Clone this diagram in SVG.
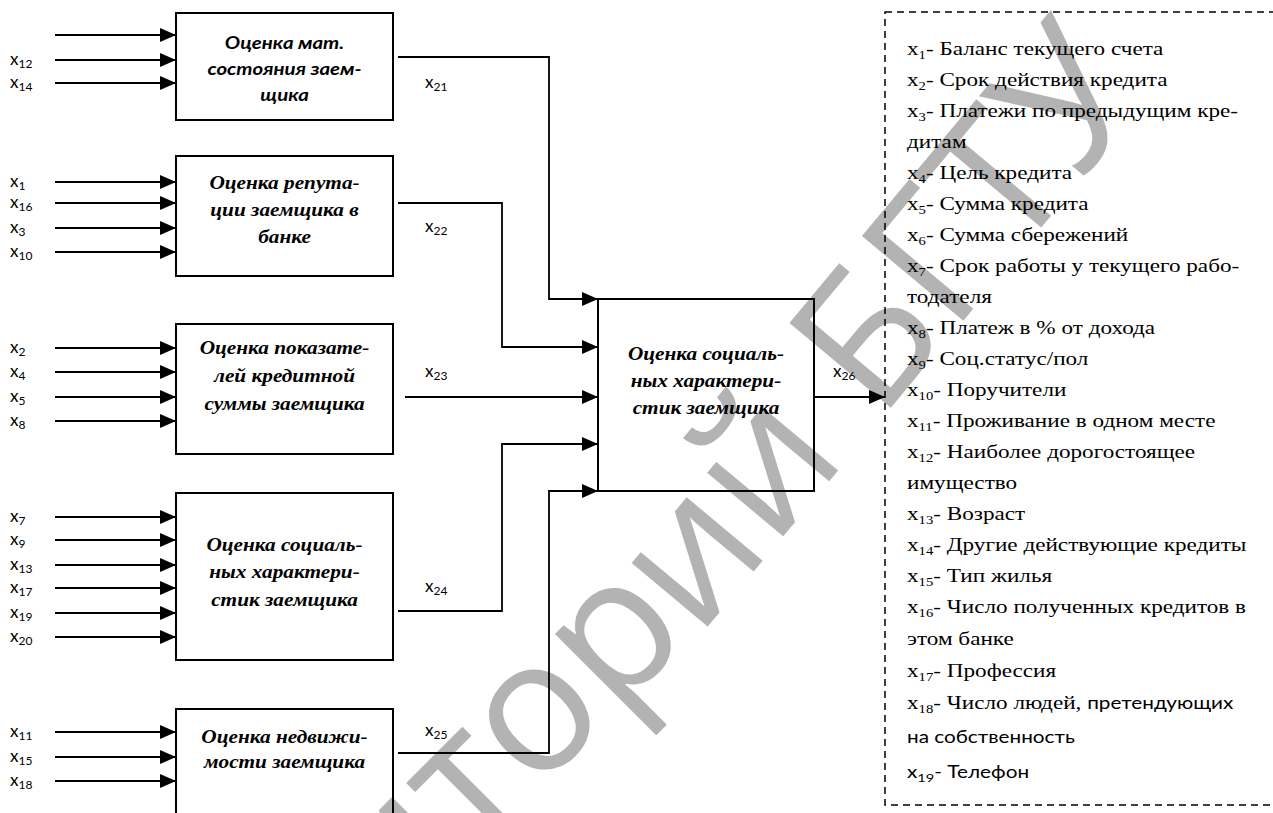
<svg xmlns="http://www.w3.org/2000/svg" width="1273" height="813" viewBox="0 0 1273 813">
<defs>
<style>
.wm{font-family:"Open Sans","DejaVu Sans",sans-serif;font-size:185px;fill:#b3b3b3}
.box{fill:none;stroke:#000;stroke-width:2}
.in{stroke:#000;stroke-width:2;fill:none}
.con{stroke:#000;stroke-width:1.8;fill:none}
.lbl{font-family:Lato,"Liberation Sans",sans-serif;font-size:17px;fill:#000}
.sub{font-size:12px}
.bt{font-family:"Liberation Serif","Times New Roman","DejaVu Serif",serif;font-weight:bold;font-style:italic;font-size:19px;text-anchor:middle;fill:#000}
.bc{font-family:Lato,"Liberation Sans",sans-serif;font-weight:bold;font-style:italic;font-size:17px;text-anchor:middle;fill:#000}
.lg{font-family:"Liberation Serif","Times New Roman","DejaVu Serif",serif;font-size:19px;fill:#000}
.lgs{font-size:12px}
.cal{font-family:Lato,"Liberation Sans",sans-serif;font-size:17px}
.dash{fill:none;stroke:#000;stroke-width:1.5;stroke-dasharray:7 5}
</style>
<marker id="ah" markerUnits="userSpaceOnUse" markerWidth="16" markerHeight="14" refX="16" refY="7" orient="auto"><path d="M0,0 L16,7 L0,14 z" fill="#000"/></marker>
<path id="wmp" d="M25,1300 L745,580 L1280,-60"/>
</defs>
<rect width="1273" height="813" fill="#fff"/>
<g transform="translate(-10,14)">
<text class="wm"><textPath href="#wmp" startOffset="0">Репозиторий БГТУ</textPath></text>
</g>

<g id="node1">
<rect class="box" x="176" y="13" width="217" height="107"/>
<g transform="translate(284.5,0) scale(1.2,1)">
<text class="bc" x="0" y="49">Оценка мат.</text>
<text class="bc" x="0" y="75">состояния заем-</text>
<text class="bc" x="0" y="101">щика</text>
</g>
</g>
<g id="node2">
<rect class="box" x="176" y="156" width="217" height="120"/>
<g transform="translate(284.5,0) scale(1.12,1)">
<text class="bt" x="0" y="189">Оценка репута-</text>
<text class="bt" x="0" y="216">ции заемщика в</text>
<text class="bt" x="0" y="243">банке</text>
</g>
</g>
<g id="node3">
<rect class="box" x="176" y="324" width="217" height="130"/>
<g transform="translate(284.5,0) scale(1.12,1)">
<text class="bt" x="0" y="354">Оценка показате-</text>
<text class="bt" x="0" y="382">лей кредитной</text>
<text class="bt" x="0" y="410">суммы заемщика</text>
</g>
</g>
<g id="node4">
<rect class="box" x="176" y="493" width="217" height="167"/>
<g transform="translate(284.5,0) scale(1.12,1)">
<text class="bt" x="0" y="551">Оценка социаль-</text>
<text class="bt" x="0" y="578">ных характери-</text>
<text class="bt" x="0" y="606">стик заемщика</text>
</g>
</g>
<g id="node5">
<rect class="box" x="176" y="709" width="217" height="130"/>
<g transform="translate(284.5,0) scale(1.12,1)">
<text class="bt" x="0" y="743">Оценка недвижи-</text>
<text class="bt" x="0" y="768">мости заемщика</text>
</g>
</g>
<g id="node6">
<rect class="box" x="598" y="299" width="216" height="192"/>
<g transform="translate(706,0) scale(1.12,1)">
<text class="bt" x="0" y="360">Оценка социаль-</text>
<text class="bt" x="0" y="387">ных характери-</text>
<text class="bt" x="0" y="414">стик заемщика</text>
</g>
</g>

<g id="inputs">
<line class="in" x1="55" y1="35" x2="176" y2="35" marker-end="url(#ah)"/>
<line class="in" x1="55" y1="60" x2="176" y2="60" marker-end="url(#ah)"/>
<line class="in" x1="55" y1="83" x2="176" y2="83" marker-end="url(#ah)"/>
<line class="in" x1="55" y1="182" x2="176" y2="182" marker-end="url(#ah)"/>
<line class="in" x1="55" y1="203" x2="176" y2="203" marker-end="url(#ah)"/>
<line class="in" x1="55" y1="228" x2="176" y2="228" marker-end="url(#ah)"/>
<line class="in" x1="55" y1="252" x2="176" y2="252" marker-end="url(#ah)"/>
<line class="in" x1="55" y1="348" x2="176" y2="348" marker-end="url(#ah)"/>
<line class="in" x1="55" y1="372" x2="176" y2="372" marker-end="url(#ah)"/>
<line class="in" x1="55" y1="397" x2="176" y2="397" marker-end="url(#ah)"/>
<line class="in" x1="55" y1="421" x2="176" y2="421" marker-end="url(#ah)"/>
<line class="in" x1="55" y1="517" x2="176" y2="517" marker-end="url(#ah)"/>
<line class="in" x1="55" y1="540" x2="176" y2="540" marker-end="url(#ah)"/>
<line class="in" x1="55" y1="565" x2="176" y2="565" marker-end="url(#ah)"/>
<line class="in" x1="55" y1="588" x2="176" y2="588" marker-end="url(#ah)"/>
<line class="in" x1="55" y1="613" x2="176" y2="613" marker-end="url(#ah)"/>
<line class="in" x1="55" y1="637" x2="176" y2="637" marker-end="url(#ah)"/>
<line class="in" x1="55" y1="732" x2="176" y2="732" marker-end="url(#ah)"/>
<line class="in" x1="55" y1="757" x2="176" y2="757" marker-end="url(#ah)"/>
<line class="in" x1="55" y1="781" x2="176" y2="781" marker-end="url(#ah)"/>
</g>
<g id="input-labels" class="lbl">
<text x="10" y="65">x<tspan class="sub" dy="3">12</tspan></text>
<text x="10" y="88">x<tspan class="sub" dy="3">14</tspan></text>
<text x="10" y="187">x<tspan class="sub" dy="3">1</tspan></text>
<text x="10" y="208">x<tspan class="sub" dy="3">16</tspan></text>
<text x="10" y="233">x<tspan class="sub" dy="3">3</tspan></text>
<text x="10" y="257">x<tspan class="sub" dy="3">10</tspan></text>
<text x="10" y="353">x<tspan class="sub" dy="3">2</tspan></text>
<text x="10" y="377">x<tspan class="sub" dy="3">4</tspan></text>
<text x="10" y="402">x<tspan class="sub" dy="3">5</tspan></text>
<text x="10" y="426">x<tspan class="sub" dy="3">8</tspan></text>
<text x="10" y="522">x<tspan class="sub" dy="3">7</tspan></text>
<text x="10" y="545">x<tspan class="sub" dy="3">9</tspan></text>
<text x="10" y="570">x<tspan class="sub" dy="3">13</tspan></text>
<text x="10" y="593">x<tspan class="sub" dy="3">17</tspan></text>
<text x="10" y="618">x<tspan class="sub" dy="3">19</tspan></text>
<text x="10" y="642">x<tspan class="sub" dy="3">20</tspan></text>
<text x="10" y="737">x<tspan class="sub" dy="3">11</tspan></text>
<text x="10" y="762">x<tspan class="sub" dy="3">15</tspan></text>
<text x="10" y="786">x<tspan class="sub" dy="3">18</tspan></text>
</g>

<g id="connectors">
<polyline class="con" points="398,57 549,57 549,299 598,299" marker-end="url(#ah)"/>
<polyline class="con" points="398,203 502,203 502,347 598,347" marker-end="url(#ah)"/>
<polyline class="con" points="405,397 598,397" marker-end="url(#ah)"/>
<polyline class="con" points="398,611 502,611 502,444 598,444" marker-end="url(#ah)"/>
<polyline class="con" points="398,753 549,753 549,491 598,491" marker-end="url(#ah)"/>
<polyline class="con" points="814,397 885,397" marker-end="url(#ah)"/>
</g>
<g id="connector-labels" class="lbl">
<text x="425" y="88">x<tspan class="sub" dy="3">21</tspan></text>
<text x="425" y="232">x<tspan class="sub" dy="3">22</tspan></text>
<text x="425" y="377">x<tspan class="sub" dy="3">23</tspan></text>
<text x="425" y="592">x<tspan class="sub" dy="3">24</tspan></text>
<text x="425" y="736">x<tspan class="sub" dy="3">25</tspan></text>
<text x="833" y="377">x<tspan class="sub" dy="3">26</tspan></text>
</g>

<g id="legend">
<rect class="dash" x="885" y="12" width="420" height="793"/>
<g class="lg" transform="translate(907,0) scale(1.22,1)">
<text y="55">x<tspan class="lgs" dy="4">1</tspan><tspan dy="-4">- Баланс текущего счета</tspan></text>
<text y="86">x<tspan class="lgs" dy="4">2</tspan><tspan dy="-4">- Срок действия кредита</tspan></text>
<text y="117">x<tspan class="lgs" dy="4">3</tspan><tspan dy="-4">- Платежи по предыдущим кре-</tspan></text>
<text y="148">дитам</text>
<text y="179">x<tspan class="lgs" dy="4">4</tspan><tspan dy="-4">- Цель кредита</tspan></text>
<text y="210">x<tspan class="lgs" dy="4">5</tspan><tspan dy="-4">- Сумма кредита</tspan></text>
<text y="241">x<tspan class="lgs" dy="4">6</tspan><tspan dy="-4">- Сумма сбережений</tspan></text>
<text y="272">x<tspan class="lgs" dy="4">7</tspan><tspan dy="-4">- Срок работы у текущего рабо-</tspan></text>
<text y="303">тодателя</text>
<text y="334">x<tspan class="lgs" dy="4">8</tspan><tspan dy="-4">- Платеж в % от дохода</tspan></text>
<text y="365">x<tspan class="lgs" dy="4">9</tspan><tspan dy="-4">- Соц.статус/пол</tspan></text>
<text y="396">x<tspan class="lgs" dy="4">10</tspan><tspan dy="-4">- Поручители</tspan></text>
<text y="427">x<tspan class="lgs" dy="4">11</tspan><tspan dy="-4">- Проживание в одном месте</tspan></text>
<text y="458">x<tspan class="lgs" dy="4">12</tspan><tspan dy="-4">- Наиболее дорогостоящее</tspan></text>
<text y="489">имущество</text>
<text y="520">x<tspan class="lgs" dy="4">13</tspan><tspan dy="-4">- Возраст</tspan></text>
<text y="551">x<tspan class="lgs" dy="4">14</tspan><tspan dy="-4">- Другие действующие кредиты</tspan></text>
<text y="582">x<tspan class="lgs" dy="4">15</tspan><tspan dy="-4">- Тип жилья</tspan></text>
<text y="613">x<tspan class="lgs" dy="4">16</tspan><tspan dy="-4">- Число полученных кредитов в</tspan></text>
<text y="645">этом банке</text>
<text y="677">x<tspan class="lgs" dy="4">17</tspan><tspan dy="-4">- Профессия</tspan></text>
<text y="709">x<tspan class="lgs" dy="4">18</tspan><tspan dy="-4">- Число людей, </tspan><tspan class="cal">претендующих</tspan></text>
<text y="743" class="cal">на собственность</text>
<text y="778" class="cal">x<tspan class="lgs" dy="4">19</tspan><tspan dy="-4">- Телефон</tspan></text>
</g>
</g>
</svg>
